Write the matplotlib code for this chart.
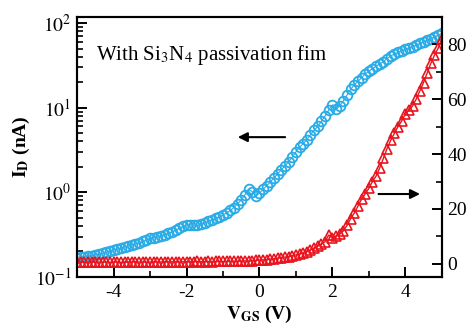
"""
Transfer curve of the TFT with Si3N4 passivation (log and linear scales)
"""
import matplotlib
matplotlib.use('Agg')
import matplotlib.pyplot as plt
import numpy as np

plt.rcParams['font.family'] = ['Liberation Serif', 'DejaVu Serif']
plt.rcParams['mathtext.fontset'] = 'stix'

# gate voltage, -5 V to 5 V by 0.1 V
vgs = np.round(np.arange(-50, 51) * 0.1, 1)

# drain current, log scale (nA)
id_log = [0.167, 0.170, 0.172, 0.175, 0.178, 0.182, 0.185, 0.190, 0.195, 0.200,
          0.208, 0.213, 0.219, 0.225, 0.232, 0.238, 0.245, 0.252, 0.262, 0.272,
          0.288, 0.292, 0.296, 0.305, 0.315, 0.327, 0.340, 0.355, 0.375, 0.395,
          0.410, 0.412, 0.408, 0.405, 0.420, 0.435, 0.455, 0.470, 0.490, 0.510,
          0.540, 0.570, 0.610, 0.660, 0.730, 0.810, 0.930, 1.080, 1.020, 0.900,
          0.980, 1.080, 1.200, 1.320, 1.480, 1.650, 1.850, 2.050, 2.300, 2.600,
          3.000, 3.400, 3.750, 4.200, 4.800, 5.400, 6.000, 6.900, 8.000, 9.400,
          10.80, 9.600, 10.50, 12.00, 14.00, 16.50, 18.50, 20.50, 22.50, 25.00,
          27.00, 29.00, 31.00, 33.00, 35.00, 38.00, 41.00, 43.00, 45.00, 47.00,
          49.00, 50.50, 52.50, 55.00, 57.50, 60.00, 62.50, 65.00, 68.50, 72.00,
          76.00]

# drain current, linear scale (nA)
id_lin = [0.6, 0.7, 0.6, 0.7, 0.7, 0.6, 0.7, 0.7, 0.7, 0.6,
          0.7, 0.7, 0.6, 0.7, 0.7, 0.7, 0.8, 0.7, 0.7, 0.7,
          0.7, 0.8, 0.7, 0.7, 0.8, 0.7, 0.8, 0.8, 0.7, 0.8,
          0.8, 0.8, 0.8, 0.9, 0.8, 0.8, 0.9, 0.8, 0.9, 0.9,
          0.9, 0.9, 0.9, 1.0, 1.0, 1.0, 1.1, 1.1, 1.2, 1.3,
          1.4, 1.5, 1.6, 1.8, 1.9, 2.1, 2.3, 2.5, 2.7, 3.0,
          3.3, 3.6, 4.0, 4.5, 5.1, 5.8, 6.5, 7.3, 8.1, 10.5,
          9.6, 10.2, 10.8, 12.0, 14.0, 16.5, 18.5, 21.0, 23.5, 25.5,
          27.5, 30.0, 32.0, 35.0, 38.5, 42.0, 45.0, 47.5, 50.0, 52.0,
          54.5, 56.0, 57.5, 60.0, 63.0, 66.0, 69.5, 73.0, 76.0, 78.5,
          82.0]

blue = '#29ABE6'
red = '#E8141E'

fig = plt.figure(figsize=(4.73, 3.30), dpi=100)
ax1 = fig.add_axes([0.163, 0.161, 0.771, 0.787])
ax2 = ax1.twinx()

ax1.semilogy(vgs, id_log, 'o-', color=blue, mfc='none', mec=blue, ms=7, mew=1.3, lw=0.8)
ax2.plot(vgs, id_lin, '^-', color=red, mfc='none', mec=red, ms=7, mew=1.2, lw=1.0)

ax1.set_xlim(-5, 5)
ax1.set_ylim(0.1, 10 ** 2.07)
ax2.set_ylim(-4.7, 89.8)

ax1.set_xticks([-4, -2, 0, 2, 4])
ax1.set_xticks([-3, -1, 1, 3], minor=True)
ax1.set_xticklabels(['-4', '-2', '0', '2', '4'])
ax1.set_yticks([0.1, 1, 10, 100])
ax1.set_yticklabels([r'$10^{-1}$', r'$10^{0}$', r'$10^{1}$', r'$10^{2}$'])
ax2.set_yticks([0, 20, 40, 60, 80])
ax2.set_yticks([10, 30, 50, 70], minor=True)
ax2.set_yticklabels(['0', '20', '40', '60', '80'])

for ax in (ax1, ax2):
    ax.tick_params(which='major', direction='in', length=7, width=1.4, labelsize=14, pad=4)
    ax.tick_params(which='minor', direction='in', length=4, width=1.2)
    for sp in ax.spines.values():
        sp.set_linewidth(1.5)
    for lab in ax.get_xticklabels() + ax.get_yticklabels():
        lab.set_family('Liberation Serif')
ax1.tick_params(axis='y', which='both', right=False)
ax1.tick_params(axis='x', pad=5)
ax2.tick_params(axis='x', which='both', top=False)

ax1.set_xlabel(r'$\mathbf{V}_{\mathbf{GS}}$' + ' (V)', fontsize=14, fontweight='bold', labelpad=2)
ax1.set_ylabel(r'$\mathbf{I}_{\mathbf{D}}$' + ' (nA)', fontsize=14, fontweight='bold', labelpad=2)

ax1.text(0.052, 0.854, r'With Si$_3$N$_4$ passivation fim', transform=ax1.transAxes,
         fontsize=15, va='center', ha='left')

# arrows pointing at each axis
ax1.annotate('', xy=(0.433, 0.538), xytext=(0.578, 0.538), xycoords='axes fraction',
             arrowprops=dict(arrowstyle='-|>', color='black', lw=1.5, mutation_scale=14))
ax1.annotate('', xy=(0.948, 0.319), xytext=(0.819, 0.319), xycoords='axes fraction',
             arrowprops=dict(arrowstyle='-|>', color='black', lw=1.5, mutation_scale=14))

plt.savefig('out.png', dpi=100)
